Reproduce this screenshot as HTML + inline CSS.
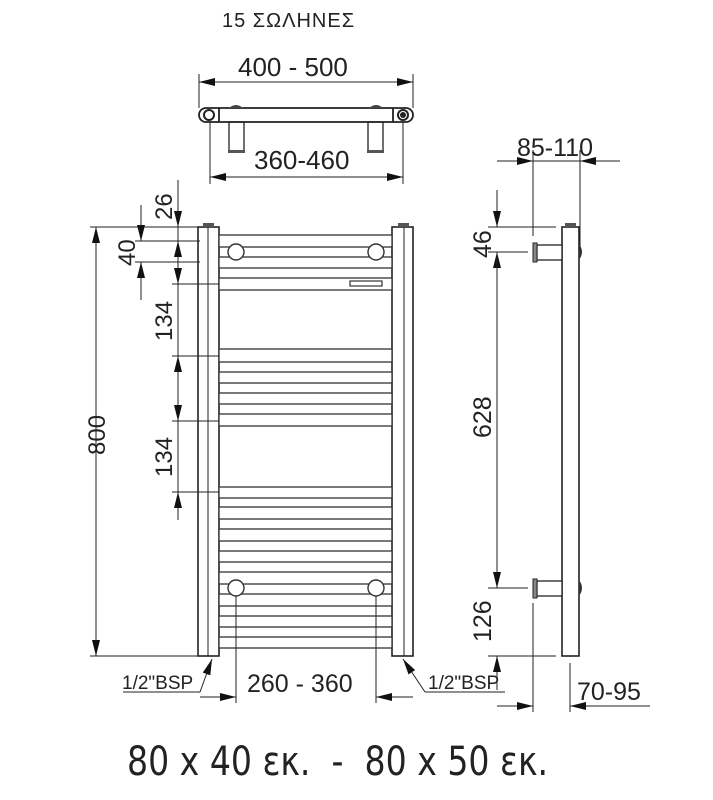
<!DOCTYPE html>
<html><head><meta charset="utf-8"><style>html,body{margin:0;padding:0;background:#fff}svg{display:block}</style></head>
<body>
<svg width="713" height="800" viewBox="0 0 713 800" xmlns="http://www.w3.org/2000/svg" font-family="Liberation Sans, DejaVu Sans, sans-serif" fill="none" stroke="#222">
<defs>
<marker id="a" markerWidth="16" markerHeight="10" refX="16" refY="5" orient="auto" markerUnits="userSpaceOnUse"><path d="M0,1 L16,5 L0,9 Z" fill="#111" stroke="none"/></marker>
</defs>
<!-- Title -->
<text x="222" y="27" font-size="20" letter-spacing="1" fill="#222" stroke="none">15 ΣΩΛΗΝΕΣ</text>

<!-- TOP VIEW -->
<g stroke-width="1">
<line x1="199" y1="74" x2="199" y2="108"/><line x1="413" y1="74" x2="413" y2="108"/>
<line x1="270" y1="82" x2="199" y2="82" marker-end="url(#a)"/><line x1="340" y1="82" x2="413" y2="82" marker-end="url(#a)"/>
<line x1="270" y1="82" x2="340" y2="82"/>
<line x1="210" y1="120" x2="210" y2="184"/><line x1="403" y1="120" x2="403" y2="184"/>
<line x1="300" y1="177" x2="210" y2="177" marker-end="url(#a)"/><line x1="300" y1="177" x2="403" y2="177" marker-end="url(#a)"/>
</g>
<text x="238" y="76" font-size="26" fill="#222" stroke="none">400 - 500</text>
<text x="254" y="169" font-size="26" fill="#222" stroke="none">360-460</text>
<g stroke-width="1.8">
<rect x="199" y="108" width="214" height="14" rx="7" fill="#fff"/>
<line x1="219" y1="108" x2="219" y2="122"/><line x1="393" y1="108" x2="393" y2="122"/>
<circle cx="209" cy="115" r="5" stroke-width="2"/>
<circle cx="403" cy="115" r="5" stroke-width="2"/><circle cx="403" cy="115" r="3" fill="#222" stroke="none"/>
<rect x="229" y="122" width="15" height="30" stroke-width="1.3"/>
<rect x="368" y="122" width="15" height="30" stroke-width="1.3"/>
<rect x="228" y="150" width="17" height="3" fill="#555" stroke="none"/>
<rect x="367" y="150" width="17" height="3" fill="#555" stroke="none"/>
<path d="M229,108 Q236,102 243,108 Z" fill="#444" stroke="none"/>
<path d="M369,108 Q376,102 383,108 Z" fill="#444" stroke="none"/>
</g>

<!-- FRONT VIEW columns -->
<g stroke-width="1.6">
<rect x="198" y="227" width="21" height="429" fill="#fff"/>
<line x1="208" y1="227" x2="208" y2="656" stroke-width="1"/>
<rect x="392" y="227" width="21" height="429" fill="#fff"/>
<line x1="404" y1="227" x2="404" y2="656" stroke-width="1"/>
<rect x="203" y="223" width="11" height="4" fill="#555" stroke="none"/>
<rect x="398" y="223" width="11" height="4" fill="#555" stroke="none"/>
</g>
<!-- bars -->
<g fill="#fff" stroke="#333" stroke-width="1.3">
<rect x="219" y="235" width="173" height="12"/><rect x="219" y="257" width="173" height="11"/><rect x="219" y="278" width="173" height="12"/>
<rect x="219" y="349" width="173" height="13"/><rect x="219" y="372" width="173" height="11"/><rect x="219" y="393" width="173" height="11"/><rect x="219" y="414" width="173" height="12"/>
<rect x="219" y="487" width="173" height="11"/><rect x="219" y="507" width="173" height="12"/><rect x="219" y="529" width="173" height="12"/><rect x="219" y="551" width="173" height="11"/>
<rect x="219" y="572" width="173" height="12"/><rect x="219" y="594" width="173" height="12"/><rect x="219" y="616" width="173" height="11"/><rect x="219" y="637" width="173" height="11"/>
<rect x="350" y="281" width="32" height="5" stroke-width="1.2"/>
<circle cx="236" cy="252" r="8" stroke-width="1.4"/><circle cx="376" cy="252" r="8" stroke-width="1.4"/>
<circle cx="236" cy="588" r="8" stroke-width="1.4"/><circle cx="376" cy="588" r="8" stroke-width="1.4"/>
</g>

<!-- left dims -->
<g stroke-width="1">
<line x1="90" y1="227" x2="200" y2="227"/><line x1="90" y1="656" x2="200" y2="656"/>
<line x1="96" y1="440" x2="96" y2="227" marker-end="url(#a)"/><line x1="96" y1="440" x2="96" y2="656" marker-end="url(#a)"/>
<line x1="135" y1="241" x2="200" y2="241"/><line x1="135" y1="262" x2="200" y2="262"/>
<line x1="172" y1="284" x2="219" y2="284"/><line x1="172" y1="356" x2="219" y2="356"/>
<line x1="172" y1="421" x2="219" y2="421"/><line x1="172" y1="492" x2="219" y2="492"/>
<line x1="141" y1="205" x2="141" y2="241" marker-end="url(#a)"/><line x1="141" y1="300" x2="141" y2="262" marker-end="url(#a)"/>
<line x1="178" y1="180" x2="178" y2="227" marker-end="url(#a)"/>
<line x1="178" y1="227" x2="178" y2="520"/>
<line x1="178" y1="262" x2="178" y2="241" marker-end="url(#a)"/><line x1="178" y1="262" x2="178" y2="284" marker-end="url(#a)"/>
<line x1="178" y1="380" x2="178" y2="356" marker-end="url(#a)"/><line x1="178" y1="400" x2="178" y2="421" marker-end="url(#a)"/>
<line x1="178" y1="520" x2="178" y2="492" marker-end="url(#a)"/>
</g>
<g fill="#222" stroke="none" font-size="24">
<text transform="translate(105,455) rotate(-90)">800</text>
<text transform="translate(172,220) rotate(-90)">26</text>
<text transform="translate(135,266) rotate(-90)">40</text>
<text transform="translate(172,341) rotate(-90)">134</text>
<text transform="translate(172,477) rotate(-90)">134</text>
</g>

<!-- bottom dims -->
<g stroke-width="1">
<line x1="236" y1="596" x2="236" y2="703"/><line x1="376" y1="596" x2="376" y2="703"/>
<line x1="200" y1="697" x2="236" y2="697" marker-end="url(#a)"/><line x1="413" y1="697" x2="376" y2="697" marker-end="url(#a)"/>
<line x1="123" y1="692" x2="200" y2="692"/><line x1="200" y1="692" x2="212" y2="659" marker-end="url(#a)"/>
<line x1="425" y1="692" x2="505" y2="692"/><line x1="425" y1="692" x2="403" y2="659" marker-end="url(#a)"/>
</g>
<g fill="#222" stroke="none">
<text x="122" y="689" font-size="19">1/2"BSP</text>
<text x="428" y="689" font-size="19">1/2"BSP</text>
<text x="247" y="692" font-size="25">260 - 360</text>
</g>

<!-- SIDE VIEW -->
<g stroke-width="1.6">
<rect x="562" y="227" width="17" height="429" fill="#fff"/>
<rect x="565" y="223" width="11" height="4" fill="#555" stroke="none"/>
<rect x="537" y="245" width="25" height="15" fill="#fff" stroke-width="1.3"/>
<rect x="533" y="243" width="4" height="19" fill="#888" stroke-width="1"/>
<rect x="537" y="581" width="25" height="15" fill="#fff" stroke-width="1.3"/>
<rect x="533" y="579" width="4" height="19" fill="#888" stroke-width="1"/>
<path d="M579,244 Q585,252 579,260 Z" fill="#333" stroke="none"/>
<path d="M579,580 Q585,588 579,596 Z" fill="#333" stroke="none"/>
</g>
<g stroke-width="1">
<line x1="497" y1="161" x2="533" y2="161" marker-end="url(#a)"/><line x1="620" y1="161" x2="580" y2="161" marker-end="url(#a)"/>
<line x1="533" y1="161" x2="580" y2="161"/>
<line x1="533" y1="150" x2="533" y2="236"/><line x1="580" y1="150" x2="580" y2="250"/>
<line x1="488" y1="227" x2="556" y2="227"/><line x1="488" y1="252" x2="528" y2="252"/>
<line x1="488" y1="588" x2="528" y2="588"/><line x1="488" y1="656" x2="556" y2="656"/>
<line x1="497" y1="190" x2="497" y2="227" marker-end="url(#a)"/><line x1="497" y1="290" x2="497" y2="252" marker-end="url(#a)"/>
<line x1="497" y1="252" x2="497" y2="588"/>
<line x1="497" y1="550" x2="497" y2="588" marker-end="url(#a)"/><line x1="497" y1="690" x2="497" y2="656" marker-end="url(#a)"/>
<line x1="533" y1="603" x2="533" y2="712"/><line x1="570" y1="663" x2="570" y2="712"/>
<line x1="497" y1="706" x2="533" y2="706" marker-end="url(#a)"/><line x1="650" y1="706" x2="570" y2="706" marker-end="url(#a)"/>
</g>
<g fill="#222" stroke="none" font-size="25">
<text x="517" y="156">85-110</text>
<text transform="translate(491,258) rotate(-90)">46</text>
<text transform="translate(491,438) rotate(-90)">628</text>
<text transform="translate(491,642) rotate(-90)">126</text>
<text x="577" y="700">70-95</text>
</g>

<!-- bottom title -->
<text x="127" y="775" font-family="DejaVu Sans, sans-serif" font-size="40" fill="#222" stroke="none" textLength="421" lengthAdjust="spacingAndGlyphs" xml:space="preserve">80 x 40 εκ.  -  80 x 50 εκ.</text>
</svg>
</body></html>
